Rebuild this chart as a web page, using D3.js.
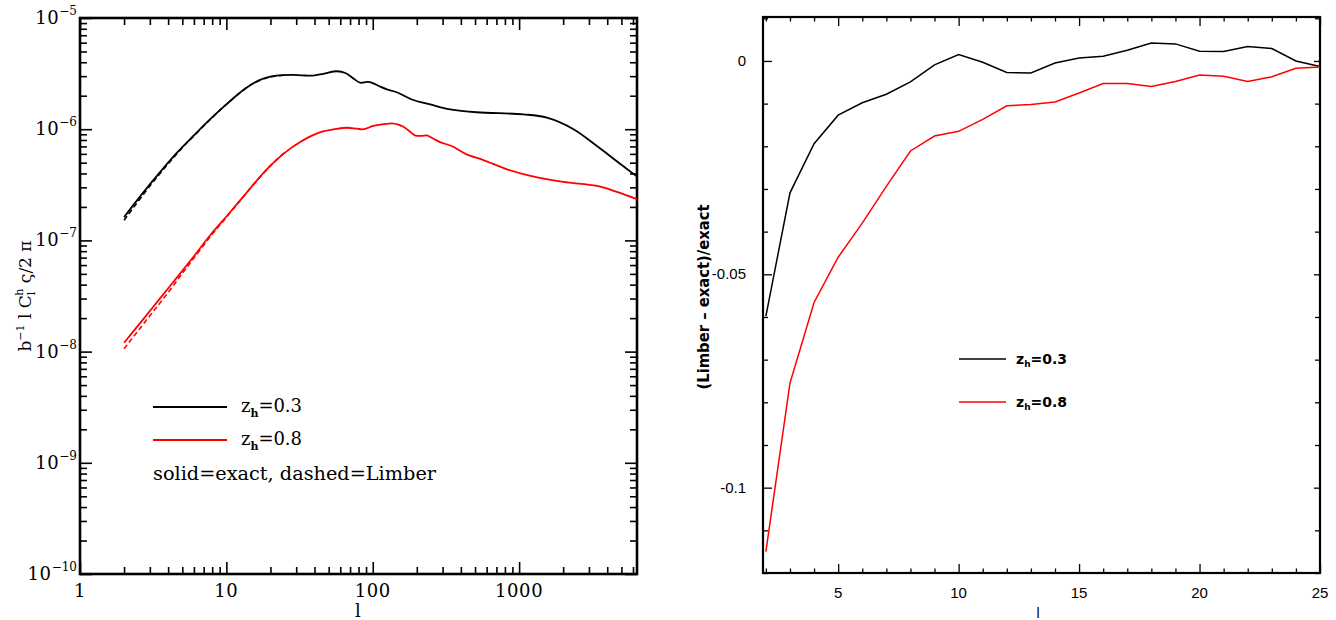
<!DOCTYPE html>
<html><head><meta charset="utf-8">
<script src="https://cdn.jsdelivr.net/npm/d3@7"></script>
<style>
html,body{margin:0;padding:0;background:#fff;}
svg{display:block;}
</style></head>
<body>
<svg id="c" width="1336" height="620"></svg>
<script>
// ---------- DATA ----------
// Left panel: b^-1 l C_l^h /2pi vs l (log-log)
const lBlack = [2,2.7,3.5,4.6,6,7.7,10,13,17,22,28,33,38,46,57,65,74,82,92,100,112,125,146,185,247,338,514,1072,1548,2355,3400,4700,6390];
const cBlackExact = [1.62e-7,2.69e-7,4.07e-7,6.15e-7,8.8e-7,1.22e-6,1.67e-6,2.24e-6,2.78e-6,3.03e-6,3.08e-6,3.05e-6,3.03e-6,3.15e-6,3.32e-6,3.2e-6,2.85e-6,2.62e-6,2.66e-6,2.6e-6,2.42e-6,2.28e-6,2.15e-6,1.85e-6,1.67e-6,1.51e-6,1.42e-6,1.36e-6,1.27e-6,1.0e-6,7.05e-7,5.1e-7,3.75e-7];
const lRed = [2,2.7,3.5,4.6,6,7.7,10.6,13,18,22,27,30,36,44,55,67,78,87,101,120,135,150,162,180,194,215,234,260,288,355,438,570,826,1196,2003,3400,4660,6390];
const cRedExact = [1.2e-8,1.95e-8,2.98e-8,4.65e-8,7.2e-8,1.10e-7,1.79e-7,2.46e-7,4.07e-7,5.3e-7,6.62e-7,7.28e-7,8.4e-7,9.42e-7,1.0e-6,1.03e-6,1.01e-6,1.0e-6,1.07e-6,1.11e-6,1.13e-6,1.1e-6,1.05e-6,9.5e-7,8.8e-7,8.7e-7,8.8e-7,8.2e-7,7.66e-7,6.96e-7,5.94e-7,5.28e-7,4.36e-7,3.80e-7,3.36e-7,3.09e-7,2.73e-7,2.35e-7];
const lLimber = [2,3,4,5,6,8,10,15,20,25];
const cBlackLimber = [1.52e-7,3.08e-7,4.88e-7,6.83e-7,8.71e-7,1.274e-6,1.672e-6,2.55e-6,2.95e-6,3.06e-6];
const cRedLimber = [1.06e-8,2.1e-8,3.4e-8,5.05e-8,6.93e-8,1.136e-7,1.61e-7,3.08e-7,4.68e-7,6.19e-7];
const leftXTicks = [1,10,100,1000];
const leftXTickLabels = ["1","10","100","1000"];
const leftYExponents = [-5,-6,-7,-8,-9,-10];

// Right panel: (Limber - exact)/exact vs l
const lDiff = [2,3,4,5,6,7,8,9,10,11,12,13,14,15,16,17,18,19,20,21,22,23,24,25];
const diffBlack = [-0.0598,-0.0309,-0.0194,-0.0127,-0.0098,-0.0078,-0.0049,-0.0009,0.0015,-0.0003,-0.0027,-0.0028,-0.0005,0.0007,0.0011,0.0025,0.0042,0.0040,0.0023,0.0022,0.0034,0.0029,0.0000,-0.0013];
const diffRed = [-0.1150,-0.0755,-0.0566,-0.0460,-0.0380,-0.0294,-0.0211,-0.0176,-0.0165,-0.0137,-0.0105,-0.0102,-0.0096,-0.0075,-0.0053,-0.0053,-0.0060,-0.0048,-0.0033,-0.0036,-0.0048,-0.0037,-0.0017,-0.0014];
const rightXTicks = [5,10,15,20,25];
const rightYTicks = [0,-0.05,-0.1];
const rightYTickLabels = ["0","-0.05","-0.1"];
const legendLabels = ["0.3","0.8"];
const seriesColors = ["#000000","#ff0000"];

// ---------- DRAW ----------
const svg = d3.select("#c");
const SERIF = "'DejaVu Serif', serif";
const SANS = "'Liberation Sans', Arial, sans-serif";
const BOLD = "'DejaVu Sans', sans-serif";

// ===== Left panel =====
const L = {x0:80, x1:637, y0:18, y1:574};
const xL = d3.scaleLog().domain([1, 6390]).range([L.x0, L.x1]);
const yL = d3.scaleLog().domain([1e-10, 1e-5]).range([L.y1, L.y0]);
const gL = svg.append("g");

function logMinors(lo, hi){
  const out=[];
  for(let d=lo; d<hi; d*=10){ for(let k=2;k<=9;k++){ const v=d*k; if(v<=hi*1.0001) out.push(v);} }
  return out;
}
const xMinorL = logMinors(1, 6390).filter(v=>v<6390);
const yMinorL = logMinors(1e-10, 1e-5);
const yMajorL = leftYExponents.map(e=>Math.pow(10,e));

function addTicks(g, axisFn, scale, vals, size, transform){
  const a = axisFn(scale).tickValues(vals).tickSizeInner(size).tickSizeOuter(0).tickFormat("");
  const gg = g.append("g").attr("transform", transform).call(a);
  gg.select(".domain").remove();
  gg.selectAll(".tick line").attr("stroke","#000").attr("stroke-width",1.6);
  return gg;
}
addTicks(gL, d3.axisBottom, xL, leftXTicks, -12, `translate(0,${L.y1})`);
addTicks(gL, d3.axisBottom, xL, xMinorL, -7, `translate(0,${L.y1})`);
addTicks(gL, d3.axisTop, xL, leftXTicks, -12, `translate(0,${L.y0})`);
addTicks(gL, d3.axisTop, xL, xMinorL, -7, `translate(0,${L.y0})`);
addTicks(gL, d3.axisLeft, yL, yMajorL, -12, `translate(${L.x0},0)`);
addTicks(gL, d3.axisLeft, yL, yMinorL, -7, `translate(${L.x0},0)`);
addTicks(gL, d3.axisRight, yL, yMajorL, -12, `translate(${L.x1},0)`);
addTicks(gL, d3.axisRight, yL, yMinorL, -7, `translate(${L.x1},0)`);

gL.append("rect").attr("x",L.x0).attr("y",L.y0).attr("width",L.x1-L.x0).attr("height",L.y1-L.y0)
  .attr("fill","none").attr("stroke","#000").attr("stroke-width",2.6);

gL.selectAll(".xl").data(leftXTicks).enter().append("text")
  .attr("x",d=>xL(d)).attr("y",597).attr("text-anchor","middle")
  .attr("font-family",SERIF).attr("font-size",18).attr("letter-spacing",0.6).text((d,i)=>leftXTickLabels[i]);
leftYExponents.forEach(e=>{
  const t = gL.append("text").attr("x",77).attr("y",yL(Math.pow(10,e))+6)
    .attr("text-anchor","end").attr("font-family",SERIF).attr("font-size",18);
  t.append("tspan").attr("letter-spacing",0.6).text("10");
  t.append("tspan").attr("dy",-9).attr("font-size",12).text("\u2212"+(-e));
});
gL.append("text").attr("x",358).attr("y",617).attr("text-anchor","middle")
  .attr("font-family",SERIF).attr("font-size",18).text("l");
const yt = gL.append("text").attr("transform","translate(31,296) rotate(-90)")
  .attr("text-anchor","middle").attr("font-family",SERIF).attr("font-size",17);
yt.append("tspan").text("b");
yt.append("tspan").attr("dy",-7).attr("font-size",11).text("\u22121");
yt.append("tspan").attr("dy",7).text(" l C");
yt.append("tspan").attr("dy",4).attr("font-size",11).text("l");
yt.append("tspan").attr("dx",-4).attr("dy",-12).attr("font-size",11).text("h");
yt.append("tspan").attr("dy",8).text(" \u03c2/2 \u03c0");

svg.append("clipPath").attr("id","clipL").append("rect")
  .attr("x",L.x0).attr("y",L.y0).attr("width",L.x1-L.x0).attr("height",L.y1-L.y0);
const lineL = d3.line().x(d=>xL(d[0])).y(d=>yL(d[1])).curve(d3.curveCatmullRom.alpha(0.5));
const curvesG = gL.append("g").attr("clip-path","url(#clipL)");
curvesG.append("path").datum(d3.zip(lBlack,cBlackExact)).attr("d",lineL)
  .attr("fill","none").attr("stroke",seriesColors[0]).attr("stroke-width",1.8);
curvesG.append("path").datum(d3.zip(lRed,cRedExact)).attr("d",lineL)
  .attr("fill","none").attr("stroke",seriesColors[1]).attr("stroke-width",1.8);
curvesG.append("path").datum(d3.zip(lLimber,cBlackLimber)).attr("d",lineL)
  .attr("fill","none").attr("stroke",seriesColors[0]).attr("stroke-width",1.6).attr("stroke-dasharray","5,3");
curvesG.append("path").datum(d3.zip(lLimber,cRedLimber)).attr("d",lineL)
  .attr("fill","none").attr("stroke",seriesColors[1]).attr("stroke-width",1.6).attr("stroke-dasharray","5,3");

const legYL = [407,440];
legendLabels.forEach((lab,i)=>{
  gL.append("line").attr("x1",153).attr("x2",227).attr("y1",legYL[i]).attr("y2",legYL[i])
    .attr("stroke",seriesColors[i]).attr("stroke-width",1.8);
  const t = gL.append("text").attr("x",241).attr("y",legYL[i]+5).attr("font-family",SERIF).attr("font-size",18)
    .attr("textLength",61).attr("lengthAdjust","spacing");
  t.append("tspan").text("z");
  t.append("tspan").attr("dy",5).attr("font-size",11).attr("font-weight","bold").text("h");
  t.append("tspan").attr("dy",-5).text("="+lab);
});
gL.append("text").attr("x",153).attr("y",480).attr("font-family",SERIF).attr("font-size",18)
  .attr("textLength",283).attr("lengthAdjust","spacingAndGlyphs")
  .text("solid=exact, dashed=Limber");

// ===== Right panel =====
const R = {x0:763, x1:1320, y0:17, y1:573};
const xR = d3.scaleLinear().domain([1.88, 25]).range([R.x0, R.x1]);
const yR = d3.scaleLinear().domain([-0.12, 0.0103]).range([R.y1, R.y0]);
const gR = svg.append("g");
const xMinorR = d3.range(2, 26).filter(v=>v%5!==0);
const yMinorR = d3.range(-12, 2).map(v=>v/100).filter(v=>Math.abs(v*100)%5!==0);

addTicks(gR, d3.axisBottom, xR, rightXTicks, -9, `translate(0,${R.y1})`);
addTicks(gR, d3.axisBottom, xR, xMinorR, -4.5, `translate(0,${R.y1})`);
addTicks(gR, d3.axisTop, xR, rightXTicks, -9, `translate(0,${R.y0})`);
addTicks(gR, d3.axisTop, xR, xMinorR, -4.5, `translate(0,${R.y0})`);
addTicks(gR, d3.axisLeft, yR, rightYTicks, -9, `translate(${R.x0},0)`);
addTicks(gR, d3.axisLeft, yR, yMinorR, -5, `translate(${R.x0},0)`);
addTicks(gR, d3.axisRight, yR, rightYTicks, -6, `translate(${R.x1},0)`);
addTicks(gR, d3.axisRight, yR, yMinorR, -5, `translate(${R.x1},0)`);
gR.selectAll(".tick line").attr("stroke-width",1.3);

gR.append("rect").attr("x",R.x0).attr("y",R.y0).attr("width",R.x1-R.x0).attr("height",R.y1-R.y0)
  .attr("fill","none").attr("stroke","#000").attr("stroke-width",2.2);

gR.selectAll(".xr").data(rightXTicks).enter().append("text")
  .attr("x",d=>xR(d)).attr("y",598).attr("text-anchor","middle")
  .attr("font-family",SANS).attr("font-size",15).text(d=>d);
gR.selectAll(".yr").data(rightYTicks).enter().append("text")
  .attr("x",746).attr("y",d=>yR(d)+5).attr("text-anchor","end")
  .attr("font-family",SANS).attr("font-size",15).text((d,i)=>rightYTickLabels[i]);
gR.append("text").attr("x",1038).attr("y",618).attr("text-anchor","middle")
  .attr("font-family",SANS).attr("font-size",14).text("l");
gR.append("text").attr("transform","translate(709,297) rotate(-90)").attr("text-anchor","middle")
  .attr("font-family",BOLD).attr("font-weight","bold").attr("font-size",16)
  .attr("textLength",185).attr("lengthAdjust","spacingAndGlyphs")
  .text("(Limber \u2013 exact)/exact");

const lineR = d3.line().x(d=>xR(d[0])).y(d=>yR(d[1]));
gR.append("path").datum(d3.zip(lDiff,diffBlack)).attr("d",lineR)
  .attr("fill","none").attr("stroke",seriesColors[0]).attr("stroke-width",1.5);
gR.append("path").datum(d3.zip(lDiff,diffRed)).attr("d",lineR)
  .attr("fill","none").attr("stroke",seriesColors[1]).attr("stroke-width",1.5);

const legYR = [359,402];
legendLabels.forEach((lab,i)=>{
  gR.append("line").attr("x1",959).attr("x2",1006).attr("y1",legYR[i]).attr("y2",legYR[i])
    .attr("stroke",seriesColors[i]).attr("stroke-width",1.5);
  const t = gR.append("text").attr("x",1016).attr("y",legYR[i]+5).attr("font-family",BOLD)
    .attr("font-weight","bold").attr("font-size",14);
  t.append("tspan").text("z");
  t.append("tspan").attr("dy",3).attr("font-size",9).text("h");
  t.append("tspan").attr("dy",-3).text("="+lab);
});
</script>
</body></html>
